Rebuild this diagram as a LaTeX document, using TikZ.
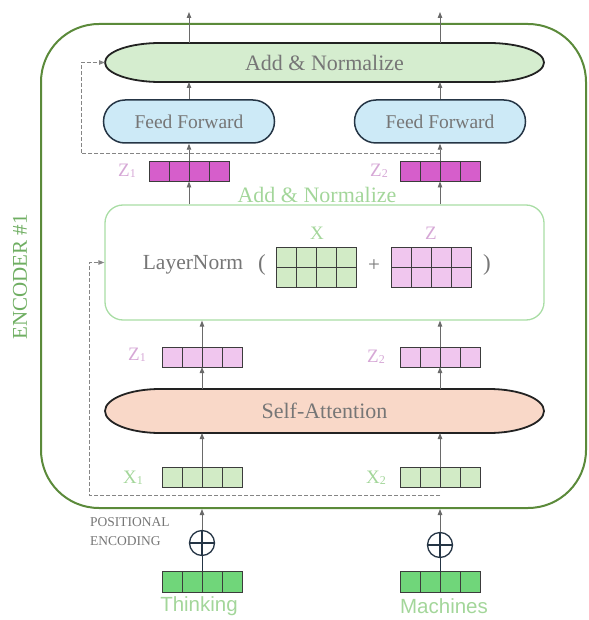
\documentclass[tikz,border=0pt]{standalone}
\usepackage{fontspec}
\setmainfont{Liberation Serif}
\newfontfamily\sansf{Liberation Sans}
\usetikzlibrary{arrows.meta,shapes.misc,calc}
\definecolor{encgreen}{HTML}{5B8A3A}
\definecolor{enclabel}{HTML}{6FAE62}
\definecolor{anfill}{HTML}{D5EDCF}
\definecolor{fffill}{HTML}{CDEAF7}
\definecolor{safill}{HTML}{F9D8C8}
\definecolor{xfill}{HTML}{D2EBC6}
\definecolor{zfill}{HTML}{F0C6EE}
\definecolor{ztop}{HTML}{D65ECB}
\definecolor{embfill}{HTML}{70D67A}
\definecolor{lnborder}{HTML}{A9DDA5}
\definecolor{textgray}{HTML}{767676}
\definecolor{labgreen}{HTML}{A3D69A}
\definecolor{labpink}{HTML}{D6A8D6}
\definecolor{cellline}{HTML}{3C3C3C}
\definecolor{arrgray}{HTML}{6A6A6A}
\definecolor{dashgray}{HTML}{858585}
\definecolor{pilldraw}{HTML}{222222}
\definecolor{ffdraw}{HTML}{253545}
\pgfdeclarelayer{bg}
\pgfsetlayers{bg,main}
\tikzset{
  vec/.style={draw=cellline, line width=1pt, minimum width=80pt, minimum height=20pt,
    inner sep=0pt, outer sep=0pt,
    path picture={\foreach \i in {1,2,3}{\draw[cellline,line width=1pt]
      ([xshift=\i*20pt]path picture bounding box.south west) --
      ([xshift=\i*20pt]path picture bounding box.north west);}}},
  mat/.style={draw=cellline, line width=1pt, minimum width=80pt, minimum height=40pt,
    inner sep=0pt, outer sep=0pt,
    path picture={\foreach \i in {1,2,3}{\draw[cellline,line width=1pt]
      ([xshift=\i*20pt]path picture bounding box.south west) --
      ([xshift=\i*20pt]path picture bounding box.north west);}
      \draw[cellline,line width=1pt] (path picture bounding box.west) -- (path picture bounding box.east);}},
  pillnode/.style={minimum width=439pt, inner sep=0pt, outer sep=0pt, text=textgray,
    font=\fontsize{22}{26}\selectfont},
  ffbox/.style={rounded rectangle, draw=ffdraw, line width=1.5pt, fill=fffill,
    minimum width=171pt, minimum height=43pt, inner sep=0pt, text=textgray,
    font=\fontsize{19.5}{23}\selectfont},
  arr/.style={draw=arrgray, line width=0.9pt, -{Triangle[length=6pt,width=4.5pt]}},
  dline/.style={draw=dashgray, line width=1pt, dash pattern=on 4pt off 2pt,
    -{Triangle[length=6pt,width=4.5pt]}},
  zlab/.style={text=labpink, font=\fontsize{19}{21}\selectfont},
  xlab/.style={text=labgreen, font=\fontsize{19}{21}\selectfont},
  oplus/.style={circle, draw=ffdraw, line width=1.3pt, minimum size=25pt, inner sep=0pt,
    path picture={\draw[ffdraw,line width=1.3pt] (path picture bounding box.north) -- (path picture bounding box.south)
      (path picture bounding box.west) -- (path picture bounding box.east);}},
  word/.style={text=labgreen, font=\sansf\fontsize{20.5}{24}\selectfont},
}
\begin{document}
\begin{tikzpicture}[x=1pt,y=-1pt]
\useasboundingbox (0,0) rectangle (588,620);
% outer encoder box
\node[draw=encgreen, line width=2pt, rounded corners=58pt, minimum width=545pt,
  minimum height=484pt, inner sep=0pt] (enc) at (313.5,266) {};
\node[rotate=90, text=enclabel, font=\fontsize{21}{24}\selectfont] (enclab) at (20,277) {ENCODER \#1};

% top add & normalize
\node[pillnode, minimum height=39pt] (an) at (324.5,62.5) {Add \& Normalize};
\begin{pgfonlayer}{bg}
\filldraw[fill=anfill, draw=pilldraw, line width=1.8pt]
  ([xshift=55pt]an.north west) -- ([xshift=-55pt]an.north east)
  arc[start angle=90, end angle=-90, x radius=55pt, y radius=19.5pt]
  -- ([xshift=55pt]an.south west)
  arc[start angle=270, end angle=90, x radius=55pt, y radius=19.5pt] -- cycle;
\end{pgfonlayer}

% feed forward
\node[ffbox] (ff1) at (189,121.5) {Feed Forward};
\node[ffbox] (ff2) at (440,121.5) {Feed Forward};

% top z vectors
\node[vec, fill=ztop] (z1t) at (189,171.5) {};
\node[vec, fill=ztop] (z2t) at (440,171.5) {};
\node[zlab] (lz1t) at (127,171) {Z\raisebox{-1pt}{\fontsize{12}{12}\selectfont 1}};
\node[zlab] (lz2t) at (379,171) {Z\raisebox{-1pt}{\fontsize{12}{12}\selectfont 2}};

\node[text=labgreen, font=\fontsize{22}{26}\selectfont] (an2lab) at (317,195) {Add \& Normalize};

% layer norm box
\node[draw=lnborder, line width=1.3pt, rounded corners=18pt, minimum width=439pt,
  minimum height=115pt, inner sep=0pt] (ln) at (324.5,262.5) {};
\node[text=textgray, font=\fontsize{21.5}{24}\selectfont] (lntxt) at (193,265) {LayerNorm};
\node[text=textgray, font=\fontsize{23}{24}\selectfont] (lp) at (262,265) {(};
\node[mat, fill=xfill] (xm) at (316,267) {};
\node[text=textgray, font=\fontsize{21}{24}\selectfont] (plus) at (374,266) {+};
\node[mat, fill=zfill] (zm) at (431,267) {};
\node[text=textgray, font=\fontsize{23}{24}\selectfont] (rp) at (487,265) {)};
\node[xlab] (xl) at (317,233) {X};
\node[zlab] (zl) at (431,233) {Z};

% lower z vectors
\node[vec, fill=zfill] (z1b) at (202,357) {};
\node[vec, fill=zfill] (z2b) at (440,357) {};
\node[zlab] (lz1b) at (137,355) {Z\raisebox{-1pt}{\fontsize{12}{12}\selectfont 1}};
\node[zlab] (lz2b) at (376,357) {Z\raisebox{-1pt}{\fontsize{12}{12}\selectfont 2}};

% self-attention
\node[pillnode, minimum height=44pt] (sa) at (324.5,411) {Self-Attention};
\begin{pgfonlayer}{bg}
\filldraw[fill=safill, draw=pilldraw, line width=1.8pt]
  ([xshift=55pt]sa.north west) -- ([xshift=-55pt]sa.north east)
  arc[start angle=90, end angle=-90, x radius=55pt, y radius=22pt]
  -- ([xshift=55pt]sa.south west)
  arc[start angle=270, end angle=90, x radius=55pt, y radius=22pt] -- cycle;
\end{pgfonlayer}

% x vectors
\node[vec, fill=xfill] (x1) at (202,477) {};
\node[vec, fill=xfill] (x2) at (440,477) {};
\node[xlab] (lx1) at (133,478) {X\raisebox{-1pt}{\fontsize{12}{12}\selectfont 1}};
\node[xlab] (lx2) at (376,478) {X\raisebox{-1pt}{\fontsize{12}{12}\selectfont 2}};

% positional encoding
\node[anchor=west, align=left, text=textgray, font=\fontsize{13.5}{19}\selectfont, inner sep=0pt] (pe) at (90,532) {POSITIONAL\\ENCODING};
\node[oplus] (op1) at (202,543) {};
\node[oplus] (op2) at (440,545) {};

% embeddings
\node[vec, fill=embfill, minimum height=21pt] (e1) at (202,581.5) {};
\node[vec, fill=embfill, minimum height=21pt] (e2) at (440,582) {};
\node[word] (w1) at (199,606) {Thinking};
\node[word] (w2) at (444,606) {Machines};

% connectors
\coordinate (t1) at (189,12);
\coordinate (t2) at (440,12);
\foreach \z/\f/\t in {z1t/ff1/t1, z2t/ff2/t2}{
  \draw[arr] (ln.north -| \z) -- (\z.south);
  \draw[arr] (\z.north) -- (\f.south);
  \draw[arr] (\f.north) -- (\f.north |- an.south);
  \draw[arr] (an.north -| \f) -- (\t);
}
\foreach \x/\z/\o/\e in {x1/z1b/op1/e1, x2/z2b/op2/e2}{
  \draw[arr] (\x.north) -- (\x.north |- sa.south);
  \draw[arr] (sa.north -| \z) -- (\z.south);
  \draw[arr] (\z.north) -- (\z.north |- ln.south);
  \draw[arr] (\o.north) -- (\o.north |- enc.south);
  \draw[draw=ffdraw, line width=1pt] (\e.north) -- (\o.south);
}

% residual dashed connectors
\coordinate (d1) at (440,154);
\coordinate (dA) at (81,154);
\draw[dline] (d1) -- (dA) |- (an.west);
\coordinate (d2) at (440,495);
\coordinate (dB) at (89,495);
\draw[dline] (d2) -- (dB) |- (ln.west);
\end{tikzpicture}
\end{document}
